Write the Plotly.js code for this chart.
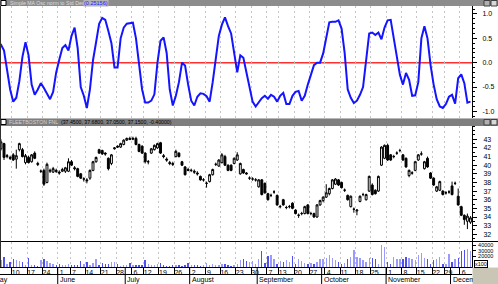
<!DOCTYPE html>
<html><head><meta charset="utf-8">
<script src="https://cdn.plot.ly/plotly-3.0.1.min.js"></script>
<style>html,body{margin:0;padding:0;background:#fff;overflow:hidden}#chart{width:498px;height:284px}</style>
</head><body><div id="chart"></div>
<script>
// ---------- data ----------
const startDate = '1999-05-03';
const holidays = ['1999-05-31','1999-07-05','1999-09-06','1999-11-25'];
const monthNames = ['January','February','March','April','May','June','July','August','September','October','November','December'];
const oscTitle = 'Simple MA Osc norm to Std Dev';
const oscLast = '(0.25156)';
const priceTitle = 'FLEETBOSTON FNL';
const priceInfo = '(37.4500, 37.6800, 37.0500, 37.1500, -0.40000)';
const oscTickVals = [-1, -0.5, 0, 0.5, 1];
const oscTickText = ['-1.0', '-0.5', '0.0', '0.5', '1.0'];
const priceTickVals = [32,33,34,35,36,37,38,39,40,41,42,43];
const volTickVals = [20000, 30000, 40000];
const volTickText = ['20000', '30000', '40000'];
const volMultLabel = 'x100';

const osc = [0.43,0.37,0.25,-0.15,-0.55,-0.8,-0.72,-0.38,0.12,0.42,
 0.15,-0.45,-0.66,-0.55,-0.42,-0.52,-0.65,-0.75,-0.6,-0.2,
 0.06,0.3,0.36,0.25,0.55,0.72,0.3,-0.5,-0.68,-0.93,
 -0.55,0.05,0.42,0.8,0.92,0.88,0.65,0.4,-0.1,-0.1,
 0.5,0.72,0.8,0.81,0.82,0.5,0.0,-0.55,-0.82,-0.82,
 -0.78,-0.65,0.0,0.45,0.52,0.2,-0.55,-0.88,-0.68,-0.4,
 0.0,-0.06,-0.45,-0.78,-0.88,-0.7,-0.63,-0.64,-0.69,-0.8,
 -0.4,0.1,0.55,0.78,0.93,0.75,0.6,0.2,-0.2,0.15,
 0.1,-0.2,-0.5,-0.8,-0.9,-0.82,-0.73,-0.68,-0.74,-0.66,
 -0.7,-0.8,-0.68,-0.62,-0.85,-0.85,-0.68,-0.6,-0.58,-0.78,
 -0.68,-0.45,-0.25,-0.05,0.0,0.0,0.19,0.55,0.83,0.84,
 0.84,0.87,0.7,0.2,-0.55,-0.72,-0.83,-0.78,-0.66,-0.5,
 0.02,0.6,0.62,0.57,0.62,0.48,0.72,0.87,0.88,0.5,
 0.19,-0.25,-0.45,-0.21,-0.35,-0.68,-0.67,-0.4,0.5,0.75,
 0.5,-0.05,-0.45,-0.75,-0.9,-0.93,-0.85,-0.7,-0.66,-0.84,
 -0.32,-0.24,-0.42,-0.82,-0.8];

const open = [42.2,41.9,42.5,41.0,40.9,41.2,40.7,41.8,41.8,40.3,
 40.9,40.4,41.4,40.2,39.3,39.4,38.0,39.3,39.2,39.4,
 39.2,39.3,39.3,39.3,40.4,39.7,39.6,39.0,38.4,38.3,
 38.5,39.4,40.4,41.8,41.7,41.4,40.8,40.2,41.9,42.2,
 42.1,42.4,42.9,43.1,43.0,43.1,42.4,42.2,41.4,40.4,
 41.4,41.8,42.0,42.6,41.1,40.7,40.3,40.2,41.0,41.4,
 40.4,39.8,39.5,39.4,39.3,39.1,38.7,38.3,37.9,38.1,
 38.9,40.1,39.9,40.3,41.0,40.0,40.0,40.2,40.6,39.0,
 39.5,39.1,38.5,38.4,38.3,37.5,38.3,37.9,36.7,36.5,
 36.9,36.5,35.2,36.0,35.1,35.2,35.6,34.8,34.2,34.4,
 34.4,35.4,34.4,34.4,34.0,35.4,35.9,36.3,36.7,37.3,
 37.8,38.3,38.0,37.1,36.5,35.2,34.9,34.7,35.8,36.6,
 36.0,37.0,37.7,37.1,37.0,40.0,40.8,42.3,41.2,41.0,
 41.4,41.7,41.2,40.8,38.8,39.1,39.4,40.6,41.3,39.6,
 40.8,39.1,38.5,37.0,37.1,37.0,36.8,36.9,37.6,37.9,
 36.4,35.2,34.2,33.5,33.4];
const high = [42.9,43.0,42.6,41.3,41.1,41.4,41.8,42.6,42.0,41.3,
 41.1,41.3,41.6,40.4,39.5,39.6,40.3,39.6,39.8,39.6,
 39.4,39.7,39.8,40.8,40.6,39.9,39.7,39.1,38.6,38.5,
 39.5,40.5,41.0,41.9,41.8,41.5,40.9,41.3,42.1,42.3,
 42.6,43.0,43.2,43.3,43.3,43.3,42.5,42.3,41.5,40.6,
 42.0,42.4,42.6,42.7,41.3,40.9,40.5,40.4,41.8,41.5,
 40.5,39.9,39.7,39.6,39.5,39.3,38.8,38.5,38.1,39.0,
 39.6,40.3,40.7,41.4,41.2,40.1,40.1,40.9,41.5,40.3,
 39.6,39.2,38.7,38.6,38.5,38.4,38.4,38.0,36.8,36.7,
 37.1,36.6,35.4,36.1,35.3,35.4,35.7,34.9,34.4,34.6,
 35.3,35.5,34.6,34.5,35.5,36.0,36.4,37.8,37.4,38.4,
 38.5,38.4,38.1,37.3,36.6,36.5,35.1,34.9,36.5,36.8,
 36.7,38.8,37.9,37.2,38.8,42.2,42.4,42.5,41.3,41.2,
 41.6,41.9,41.3,40.9,39.5,39.3,40.5,41.3,41.6,40.5,
 41.0,39.2,38.6,37.6,38.2,37.1,37.0,37.1,38.1,38.1,
 37.3,35.3,34.3,34.4,34.1];
const low = [41.8,41.7,40.6,40.8,40.6,40.5,39.6,41.6,40.9,40.1,
 40.2,40.3,40.7,39.9,39.1,37.6,37.9,39.1,39.1,39.1,
 38.9,39.2,39.1,39.2,39.9,39.4,38.6,38.4,38.1,37.9,
 38.3,39.3,40.3,41.3,41.2,41.1,39.4,40.0,41.8,42.0,
 42.0,42.3,42.8,42.9,42.9,42.3,41.5,41.3,40.2,40.1,
 41.3,41.7,41.9,41.3,40.8,40.4,40.0,39.9,40.9,40.9,
 39.9,38.8,39.3,39.2,39.0,38.8,38.2,38.1,37.4,38.0,
 38.8,39.9,39.8,40.2,39.9,39.3,39.3,40.1,40.5,38.9,
 39.0,38.9,38.3,38.2,38.1,37.4,36.5,36.7,35.9,36.3,
 36.7,35.3,35.0,35.3,34.9,35.0,34.9,34.3,33.9,34.2,
 34.3,34.3,34.2,33.9,33.9,35.3,35.7,36.2,36.5,37.2,
 37.7,37.6,37.3,36.9,35.9,35.1,34.5,34.2,35.7,36.4,
 35.9,36.9,36.5,36.6,36.9,39.9,40.7,40.5,40.5,40.8,
 41.2,41.5,40.5,39.7,38.6,38.9,39.3,40.5,41.1,39.5,
 39.7,38.4,37.6,36.9,37.0,36.5,36.6,36.7,36.5,37.7,
 35.3,34.1,33.1,32.6,33.2];
const close = [42.6,42.7,40.9,41.1,40.8,40.6,41.1,42.5,41.0,41.1,
 40.3,41.2,40.8,40.1,39.3,37.8,40.1,39.4,39.6,39.3,
 39.1,39.5,39.7,40.4,40.0,39.6,38.7,38.5,38.4,38.2,
 39.4,40.4,40.9,41.4,41.3,41.3,39.6,41.2,42.0,42.1,
 42.5,42.9,43.1,43.0,43.1,42.4,41.6,41.4,40.4,40.4,
 41.9,42.3,42.5,41.4,41.0,40.6,40.2,40.1,41.6,41.0,
 40.0,38.9,39.4,39.4,39.2,39.0,38.3,38.3,37.9,38.9,
 39.5,40.1,40.6,41.2,40.0,39.4,39.4,40.8,41.2,40.2,
 39.1,39.0,38.5,38.4,38.3,38.3,36.6,36.8,36.0,36.5,
 36.9,35.4,35.2,35.4,35.1,35.2,35.0,34.4,34.2,34.4,
 35.2,34.4,34.4,34.0,35.4,35.9,36.3,36.8,37.3,38.3,
 38.4,37.7,37.4,37.1,36.0,36.4,34.9,34.8,36.4,36.6,
 36.6,38.7,36.6,36.7,38.7,42.1,42.3,40.6,40.6,41.0,
 41.4,41.7,40.6,39.8,39.4,39.1,40.4,41.2,41.3,40.4,
 39.8,38.5,37.7,37.5,38.1,36.6,36.8,36.9,36.6,37.9,
 35.4,34.2,33.7,34.1,33.9];
const volume = [9300,12400,18500,6100,9300,14300,12400,11100,9300,4600,
 16700,4300,3100,1900,12400,14300,10600,8000,6100,3700,
 6100,4300,3100,5000,3700,4300,3100,10600,6100,9300,
 4600,8000,15400,4300,8000,5600,5600,9300,9300,6100,
 1900,2800,3100,8000,4300,4300,3700,4300,13500,6100,
 3700,3100,6100,8000,3100,1900,1900,2800,4300,2800,
 1900,3100,8000,3700,3100,3100,1900,3100,8000,3700,
 6100,4300,4300,6100,6100,3700,1900,4600,6100,12400,
 14300,10600,9300,10600,6100,14300,29100,8000,20400,22800,
 14300,6100,10600,9300,12400,9300,20400,6100,14300,10600,
 8000,6100,8000,6100,9300,14300,14300,16700,22800,16700,
 12400,9300,6100,8000,14300,18500,30900,18500,16700,12400,
 9300,16700,16700,14300,6100,41300,37000,9300,6100,18500,
 15400,15400,15400,18500,16700,15400,12400,22800,26500,16700,
 14300,6100,12400,14300,18500,6100,6100,24600,9300,14300,
 16700,29100,30900,33900,29100];

// ---------- derived: trading days, week / month starts ----------
function buildDays(start, n, hol) {
  const out = []; const d = new Date(start + 'T00:00:00Z');
  while (out.length < n) {
    const iso = d.toISOString().slice(0, 10); const w = d.getUTCDay();
    if (w !== 0 && w !== 6 && !hol.includes(iso)) out.push(new Date(d));
    d.setUTCDate(d.getUTCDate() + 1);
  }
  return out;
}
const days = buildDays(startDate, osc.length, holidays);
const xi = days.map((_, i) => i);
const weekPos = [], weekText = [], monthIdx = [], monthText = [];
days.forEach((d, i) => {
  const prev = days[i - 1];
  if (i === 0 || d.getUTCDay() <= prev.getUTCDay() || (d - prev) > 3 * 864e5) {
    weekPos.push(i - 0.5); weekText.push(String(d.getUTCDate()));
  }
  if (i === 0 || d.getUTCMonth() !== prev.getUTCMonth()) {
    monthIdx.push(i); monthText.push(monthNames[d.getUTCMonth()]);
  }
});

// ---------- geometry helpers ----------
const W = 498, H = 284, mL = 0, mR = 26, mT = 0, mB = 17;
const PW = W - mL - mR, PH = H - mT - mB;
const py = p => (H - mB - p) / PH;
const px = p => (p - mL) / PW;
const F = 'Liberation Sans, Arial, sans-serif';

const volColors = close.map((c, i) => c >= open[i] ? '#9a9aff' : '#5050f0');

const traces = [
  {type: 'scatter', mode: 'lines', x: xi, y: osc, xaxis: 'x', yaxis: 'y',
   line: {color: '#1414ff', width: 2}, hoverinfo: 'skip'},
  {type: 'candlestick', x: xi, open: open, high: high, low: low, close: close, xaxis: 'x', yaxis: 'y2',
   increasing: {line: {color: '#000', width: 1}, fillcolor: '#fff'},
   decreasing: {line: {color: '#000', width: 1}, fillcolor: '#000'},
   whiskerwidth: 0, hoverinfo: 'skip'},
  {type: 'bar', x: xi, y: volume, xaxis: 'x', yaxis: 'y3', width: 0.45,
   marker: {color: volColors, line: {width: 0}}, hoverinfo: 'skip'}
];

const shapes = [
  {type: 'rect', xref: 'paper', yref: 'paper', x0: px(0), x1: px(498), y0: py(6), y1: py(0), fillcolor: '#8c8c8c', line: {width: 0}},
  {type: 'rect', xref: 'paper', yref: 'paper', x0: px(0), x1: px(498), y0: py(126), y1: py(118), fillcolor: '#7e7e7e', line: {width: 0}},
  {type: 'line', xref: 'paper', yref: 'paper', x0: px(0), x1: px(498), y0: py(118.5), y1: py(118.5), line: {color: '#b8b8b8', width: 1}},
  {type: 'rect', xref: 'paper', yref: 'paper', x0: px(1), x1: px(6), y0: py(5.5), y1: py(0.5), fillcolor: '#fff', line: {color: '#000', width: 1}},
  {type: 'rect', xref: 'paper', yref: 'paper', x0: px(1), x1: px(6), y0: py(124.5), y1: py(119.5), fillcolor: '#fff', line: {color: '#000', width: 1}},
  {type: 'rect', xref: 'paper', yref: 'paper', x0: px(484), x1: px(490), y0: py(6), y1: py(0.5), fillcolor: '#b0b0b0', line: {color: '#404040', width: 1}},
  {type: 'rect', xref: 'paper', yref: 'paper', x0: px(491), x1: px(497), y0: py(6), y1: py(0.5), fillcolor: '#d8d8d8', line: {color: '#404040', width: 1}},
  {type: 'rect', xref: 'paper', yref: 'paper', x0: px(484), x1: px(490), y0: py(125), y1: py(119.5), fillcolor: '#b0b0b0', line: {color: '#404040', width: 1}},
  {type: 'rect', xref: 'paper', yref: 'paper', x0: px(491), x1: px(497), y0: py(125), y1: py(119.5), fillcolor: '#d8d8d8', line: {color: '#404040', width: 1}},
  {type: 'line', xref: 'paper', yref: 'y', x0: 0, x1: 1, y0: 0, y1: 0, layer: 'below', line: {color: '#ff3030', width: 1.5}},
  {type: 'line', xref: 'paper', yref: 'paper', x0: 0, x1: px(498), y0: py(241.5), y1: py(241.5), line: {color: '#000', width: 1}},
  {type: 'line', xref: 'paper', yref: 'paper', x0: px(0.5), x1: px(0.5), y0: py(267), y1: py(6), line: {color: '#303030', width: 1}},
  {type: 'line', xref: 'paper', yref: 'paper', x0: 0, x1: 1, y0: py(274.5), y1: py(274.5), line: {color: '#000', width: 1}},
  {type: 'rect', xref: 'paper', yref: 'paper', x0: px(472.5), x1: px(498), y0: py(284), y1: py(267.5), fillcolor: '#cac6b6', line: {width: 0}}
];
monthIdx.forEach(m => {
  shapes.push({type: 'line', xref: 'x', yref: 'paper', x0: m - 0.5, x1: m - 0.5, y0: py(284), y1: py(267), line: {color: '#000', width: 1}});
});

const annotations = [
  {xref: 'paper', yref: 'paper', x: px(9), y: py(3.2), xanchor: 'left', yanchor: 'middle', showarrow: false, borderpad: 0,
   text: oscTitle, font: {family: F, size: 5.2, color: '#dcdcdc'}},
  {xref: 'paper', yref: 'paper', x: px(83), y: py(3.2), xanchor: 'left', yanchor: 'middle', showarrow: false, borderpad: 0,
   text: oscLast, font: {family: F, size: 5.5, color: '#1c1cff'}, bgcolor: '#b4b4b4'},
  {xref: 'paper', yref: 'paper', x: px(8), y: py(122.2), xanchor: 'left', yanchor: 'middle', showarrow: false, borderpad: 0,
   text: priceTitle, font: {family: F, size: 5.2, color: '#d4d4d4'}},
  {xref: 'paper', yref: 'paper', x: px(60), y: py(122.2), xanchor: 'left', yanchor: 'middle', showarrow: false, borderpad: 0,
   text: priceInfo, font: {family: F, size: 5.2, color: '#000'}},
  {xref: 'paper', yref: 'paper', x: px(474), y: py(264), xanchor: 'left', yanchor: 'middle', showarrow: false, borderpad: 0,
   text: volMultLabel, font: {family: F, size: 5.5, color: '#000'}, bgcolor: '#fff', bordercolor: '#000', borderwidth: 1}
];
monthIdx.forEach((m, k) => {
  if (k === 0) {
    annotations.push({xref: 'paper', yref: 'paper', x: 0, xshift: -7, y: py(279.5), xanchor: 'left', yanchor: 'middle',
      showarrow: false, borderpad: 0, text: monthText[k], font: {family: F, size: 7, color: '#000'}});
  } else {
    const last = k === monthIdx.length - 1;
    const a = {xref: 'x', yref: 'paper', x: m - 0.5, xshift: 1, y: py(279.5), xanchor: 'left', yanchor: 'middle',
      showarrow: false, borderpad: 0, text: monthText[k], font: {family: F, size: 7, color: '#000'}, align: 'left'};
    if (last) a.width = 20;
    annotations.push(a);
  }
});

const axCommon = {fixedrange: true, tickfont: {family: F, size: 7, color: '#000'}, tickcolor: '#000', showline: true, linecolor: '#000', linewidth: 1, zeroline: false, showgrid: false};

const layout = {
  width: W, height: H, margin: {l: mL, r: mR, t: mT, b: mB, pad: 0},
  paper_bgcolor: '#fff', plot_bgcolor: '#fff', showlegend: false,
  font: {family: F, size: 7, color: '#000'},
  boxgap: 0.12,
  xaxis: Object.assign({}, axCommon, {
    domain: [0, 1], anchor: 'y3', range: [0.69, 154.5], tickmode: 'array', tickvals: weekPos, ticktext: weekText,
    ticks: 'outside', ticklen: 7, tickwidth: 1, ticklabelstandoff: -8, ticklabelshift: 4,
    showgrid: true, gridcolor: '#c4c4c4', griddash: '2px,3px', gridwidth: 1,
    rangeslider: {visible: false}
  }),
  yaxis: Object.assign({}, axCommon, {
    domain: [py(118), py(6)], anchor: 'x', side: 'right', range: [-1.136, 1.164],
    tickmode: 'array', tickvals: oscTickVals, ticktext: oscTickText, ticks: 'outside', ticklen: 4, ticklabelstandoff: 4,
    minor: {dtick: 0.1, ticks: 'outside', ticklen: 2, tickcolor: '#000', showgrid: false}
  }),
  yaxis2: Object.assign({}, axCommon, {
    domain: [py(241), py(126)], anchor: 'x', side: 'right', range: [31.22, 44.54],
    tickmode: 'array', tickvals: priceTickVals, ticks: 'outside', ticklen: 4, ticklabelstandoff: 5,
    minor: {dtick: 0.5, ticks: 'outside', ticklen: 2, tickcolor: '#000', showgrid: false}
  }),
  yaxis3: Object.assign({}, axCommon, {
    domain: [0, py(242)], anchor: 'x', side: 'right', range: [0, 46500],
    tickmode: 'array', tickvals: volTickVals, ticktext: volTickText, ticks: 'outside', ticklen: 3, ticklabelstandoff: 1,
    tickfont: {family: F, size: 5.5, color: '#000'}
  }),
  shapes: shapes,
  annotations: annotations,
  bargap: 0
};

Plotly.newPlot('chart', traces, layout, {staticPlot: true, displayModeBar: false});
</script>
</body></html>
